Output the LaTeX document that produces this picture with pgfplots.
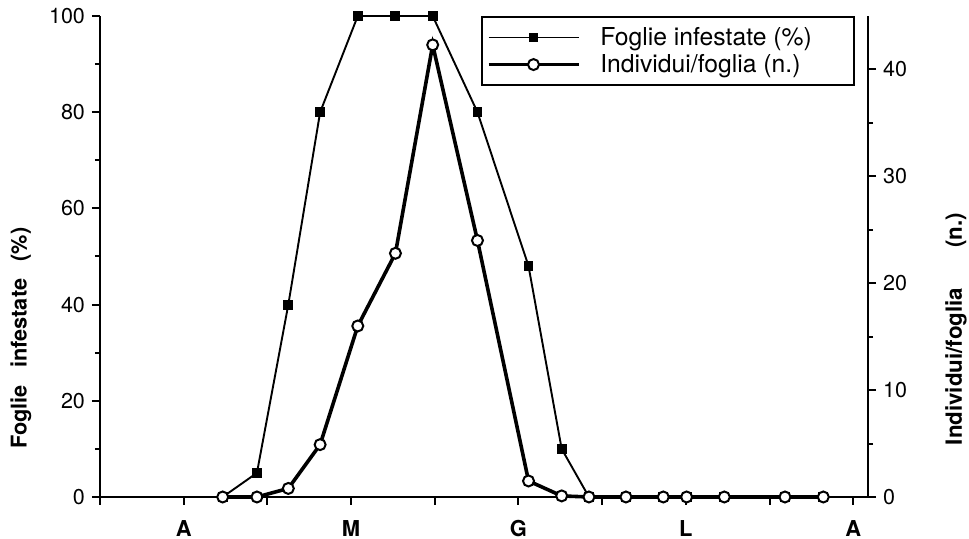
\documentclass[border=0pt]{standalone}
\usepackage{fontspec}
\setmainfont{TeX Gyre Heros}
\usepackage{pgfplots}
\pgfplotsset{compat=1.18}
\begin{document}
\begin{tikzpicture}
\pgfplotsset{
 common/.style={
  scale only axis, width=384bp, height=240.5bp,
  xmin=0, xmax=9.176,
  /pgf/number format/assume math mode=true,
  tick style={line width=1bp, black},
  axis line style={line width=1.3bp},
  ticklabel style={font=\fontsize{10.8}{12}\selectfont},
  tick align=outside, major tick length=4bp, minor tick length=2.5bp,
  clip=false,
 }
}
\begin{axis}[common, name=ax,
  axis x line*=bottom, axis y line*=left,
  ymin=0, ymax=100,
  ytick={0,20,...,100}, minor ytick={10,30,...,90},
  xtick={0,...,9}, xticklabels={,A,,M,,G,,L,,A},
  xticklabel style={font=\fontsize{11}{13}\selectfont\bfseries, yshift=-4bp},
  ylabel={Foglie\hspace{0.8em}infestate\hspace{0.8em}(\%)},
  ylabel style={font=\fontsize{10.9}{12}\selectfont\bfseries, at={(axis description cs:-0.103,0.33)}, anchor=center},
]
\addplot[black, line width=0.95bp, mark=square*, mark size=2bp, mark options={solid}] coordinates {
(1.466,0) (1.875,5) (2.25,40) (2.63,80) (3.08,100) (3.53,100) (3.975,100) (4.51,80) (5.12,48) (5.516,10) (5.842,0) (6.284,0) (6.73,0) (7.009,0) (7.459,0) (8.184,0) (8.642,0)
};
\end{axis}
\begin{axis}[common,
  axis x line=none, axis y line*=right,
  ymin=0, ymax=45,
  ytick={0,10,...,40}, minor ytick={5,15,...,35},
  ylabel={Individui/foglia\hspace{1.8em}(n.)},
  ylabel style={font=\fontsize{11.2}{12}\selectfont\bfseries, at={(axis description cs:1.1146,0.349)}, anchor=center},
  legend style={at={(0.4965,1)}, anchor=north west, draw=black, line width=1bp, fill=white,
    font=\fontsize{12.4}{14}\selectfont, inner xsep=2.2bp, inner ysep=3bp, row sep=-1bp,
    /tikz/every odd column/.append style={column sep=8bp}},
  legend cell align=left,
  legend image code/.code={\draw[mark repeat=2,mark phase=2,#1] plot coordinates {(0bp,0bp) (22.5bp,0bp) (45bp,0bp)};},
]
\addlegendimage{black, line width=0.95bp, mark=square*, mark size=2bp, mark options={solid}}
\addlegendentry{Foglie infestate (\%)\hspace*{17bp}}
\addplot[black, line width=1.8bp, mark=*, mark size=2.75bp, mark options={fill=white, line width=1bp, solid}] coordinates {
(1.466,0) (1.875,0) (2.25,0.8) (2.63,4.9) (3.08,16.0) (3.53,22.8) (3.975,42.3) (4.51,24.0) (5.12,1.5) (5.516,0.1) (5.842,0) (6.284,0) (6.73,0) (7.009,0) (7.459,0) (8.184,0) (8.642,0)
};
\addlegendentry{Individui/foglia (n.)}
\end{axis}
\pgfresetboundingbox
\path[use as bounding box] ([xshift=-50bp,yshift=-21bp]ax.south west) rectangle ([xshift=50.5bp,yshift=8bp]ax.north east);
\end{tikzpicture}
\end{document}
